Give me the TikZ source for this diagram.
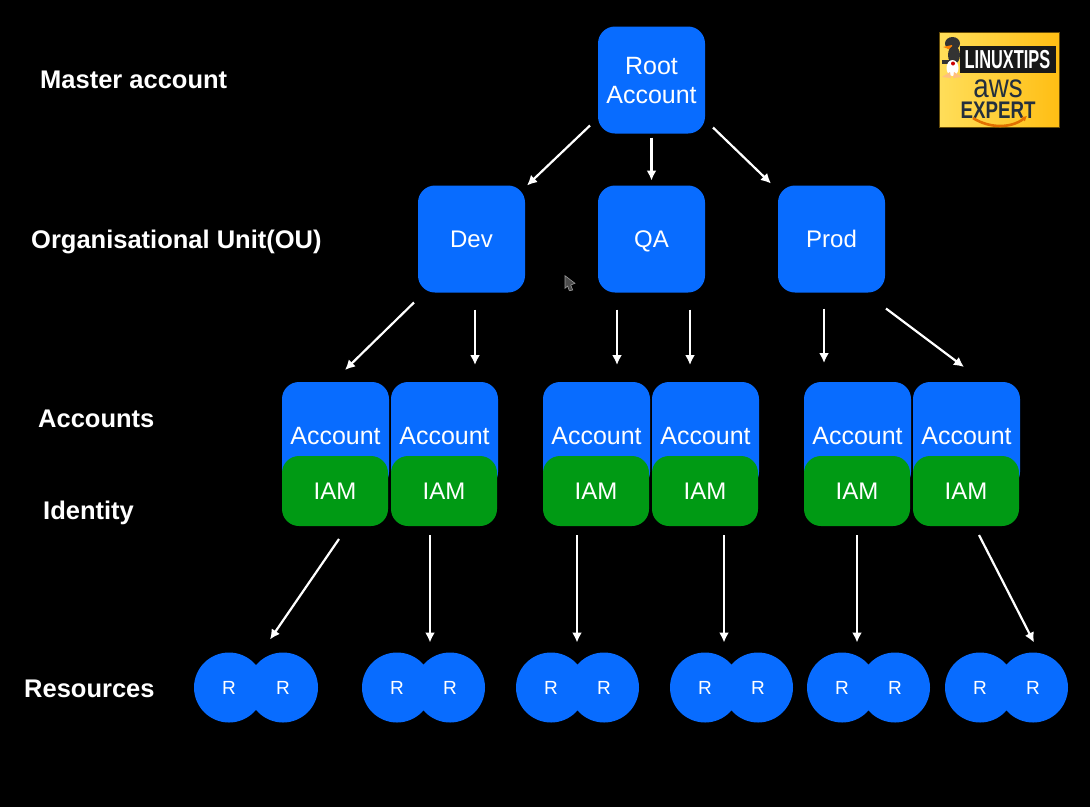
\documentclass[tikz,border=0pt]{standalone}
\usepackage{fontspec}
\setmainfont{Liberation Sans}
\usetikzlibrary{arrows.meta,positioning}

\definecolor{awsblue}{RGB}{8,108,255}
\definecolor{iamgreen}{RGB}{0,154,20}
\definecolor{awsnavy}{RGB}{35,47,62}
\definecolor{logogold}{RGB}{255,190,20}
\definecolor{logolight}{RGB}{255,222,90}
\definecolor{smile}{RGB}{225,112,0}

\newcommand{\px}[1]{\fontsize{#1}{#1}\selectfont}

\begin{document}
\begin{tikzpicture}[
  x=1pt, y=-1pt,
  box/.style={fill=awsblue, rounded corners=17pt, minimum size=107pt, inner sep=0pt, outer sep=0pt, text=white, align=center, font=\px{24}, text depth=0pt},
  account/.style={box, font=\px{25}},
  iam/.style={box, fill=iamgreen, minimum width=106pt, minimum height=70pt},
  res/.style={circle, fill=awsblue, minimum size=70pt, inner sep=0pt, outer sep=0pt, text=white, font=\px{19}},
  level/.style={anchor=west, inner sep=0pt, text=white, font=\px{25.5}\bfseries},
  link/.style={draw=white, line width=2.2pt, -{Latex[length=10pt,width=10pt]}},
]
  \fill[black] (0,0) rectangle (1090,807);
  \useasboundingbox (0,0) rectangle (1090,807);

  \node[level] (master) at (40,80) {Master account};
  \node[level] (ou) at (31,242) {Organisational Unit(OU)};
  \node[level] (accounts) at (38,419) {Accounts};
  \node[level] (identity) at (43,513) {Identity};
  \node[level] (resources) at (24,689) {Resources};

  \node[box, font=\px{25}] (root) at (651.5,80) {Root\\[4pt]Account};
  \node[box] (qa) at (651.5,239) {QA};
  \node[box, left=73pt of qa] (dev) {Dev};
  \node[box, right=73pt of qa] (prod) {Prod};

  \node[account] (accA) at (335.5,435.5) {Account};
  \node[account, right=2pt of accA] (accB) {Account};
  \node[account] (accC) at (596.5,435.5) {Account};
  \node[account, right=2pt of accC] (accD) {Account};
  \node[account] (accE) at (857.5,435.5) {Account};
  \node[account, right=2pt of accE] (accF) {Account};

  \node[iam] (iamA) at (335,491) {IAM};
  \node[iam] (iamB) at (444,491) {IAM};
  \node[iam] (iamC) at (596,491) {IAM};
  \node[iam] (iamD) at (705,491) {IAM};
  \node[iam] (iamE) at (857,491) {IAM};
  \node[iam] (iamF) at (966,491) {IAM};

  \node[res] (rA) at (229,687.5) {R};
  \node[res] (rAA) at (283,687.5) {R};
  \node[res] (rB) at (397,687.5) {R};
  \node[res] (rBB) at (450,687.5) {R};
  \node[res] (rC) at (551,687.5) {R};
  \node[res] (rCC) at (604,687.5) {R};
  \node[res] (rD) at (705,687.5) {R};
  \node[res] (rDD) at (758,687.5) {R};
  \node[res] (rE) at (842,687.5) {R};
  \node[res] (rEE) at (895,687.5) {R};
  \node[res] (rF) at (980,687.5) {R};
  \node[res] (rFF) at (1033,687.5) {R};

  \draw[link] ([shift={(-8,-8)}]root.south west) -- ([shift={(2,0)}]dev.north east);
  \draw[link] ([shift={(0,4)}]root.south) -- ([shift={(0,-5)}]qa.north);
  \draw[link] ([shift={(8,-6)}]root.south east) -- ([shift={(-7,-2)}]prod.north west);

  \draw[link] ([shift={(-4,10)}]dev.south west) -- ([shift={(9.5,-12)}]accA.north);
  \draw[link] ([shift={(3.5,17)}]dev.south) -- ([shift={(30.5,-17)}]accB.north);
  \draw[link] ([shift={(-34.5,17)}]qa.south) -- ([shift={(20.5,-17)}]accC.north);
  \draw[link] ([shift={(38.5,17)}]qa.south) -- ([shift={(-15.5,-17)}]accD.north);
  \draw[link] ([shift={(-7.5,16)}]prod.south) -- ([shift={(-33.5,-19)}]accE.north);
  \draw[link] ([shift={(54.5,16)}]prod.south) -- ([shift={(-2.5,-15)}]accF.north);

  \draw[link] ([shift={(4,13)}]iamA.south) -- ([shift={(-13,-48)}]rAA.center);
  \draw[link] ([shift={(-14,9)}]iamB.south) -- ([shift={(-20,-45)}]rBB.center);
  \draw[link] ([shift={(-19,9)}]iamC.south) -- ([shift={(26,-45)}]rC.center);
  \draw[link] ([shift={(19,9)}]iamD.south) -- ([shift={(19,-45)}]rD.center);
  \draw[link] ([shift={(0,9)}]iamE.south) -- ([shift={(15,-45)}]rE.center);
  \draw[link] ([shift={(13,9)}]iamF.south) -- ([shift={(1,-45)}]rFF.center);

  \fill[black!70, draw=black!40, line width=.6pt] (565,275.7) -- (575,283.3) -- (570.7,285) -- (572.7,290) -- (569.3,290.7) -- (567.7,286) -- (565,288.3) -- cycle;

  \shade[left color=logolight, right color=logogold, draw=black!60!logogold, line width=.6pt] (939,32) rectangle (1059,127);
  \fill[black!90] (960,46) rectangle (1056,73);
  \node[text=white, xscale=.63, transform shape, font=\px{26}\bfseries, inner sep=0pt] (linuxtips) at (1007.5,60) {LINUXTIPS};
  \node[text=awsnavy, xscale=.84, transform shape, font=\px{33}, inner sep=0pt] (aws) at (998,89) {aws};
  \node[text=awsnavy, xscale=.78, transform shape, font=\px{24}\bfseries, inner sep=0pt] (expert) at (998,110) {EXPERT};
  \draw[smile, line width=2.6pt, -{Latex[length=5pt,width=6pt]}] (973,118) .. controls (990,129) and (1012,128) .. (1027,116);

  \fill[black!80] (952.5,43.5) ellipse (7.5 and 6.5);
  \fill[orange] (943,47) -- (952,45) -- (952,50) -- cycle;
  \fill[black!80] (954,55) ellipse (6 and 9);
  \fill[black!80] (942,60) rectangle (950,64);
  \fill[white] (952.5,68) ellipse (6 and 8);
  \fill[red!80!black] (953,63.5) circle (2);
  \fill[orange!50!white] (942,77) -- (950,72) -- (951,78) -- cycle;
  \fill[orange!50!white] (962,77) -- (954,72) -- (953,78) -- cycle;
\end{tikzpicture}
\end{document}
